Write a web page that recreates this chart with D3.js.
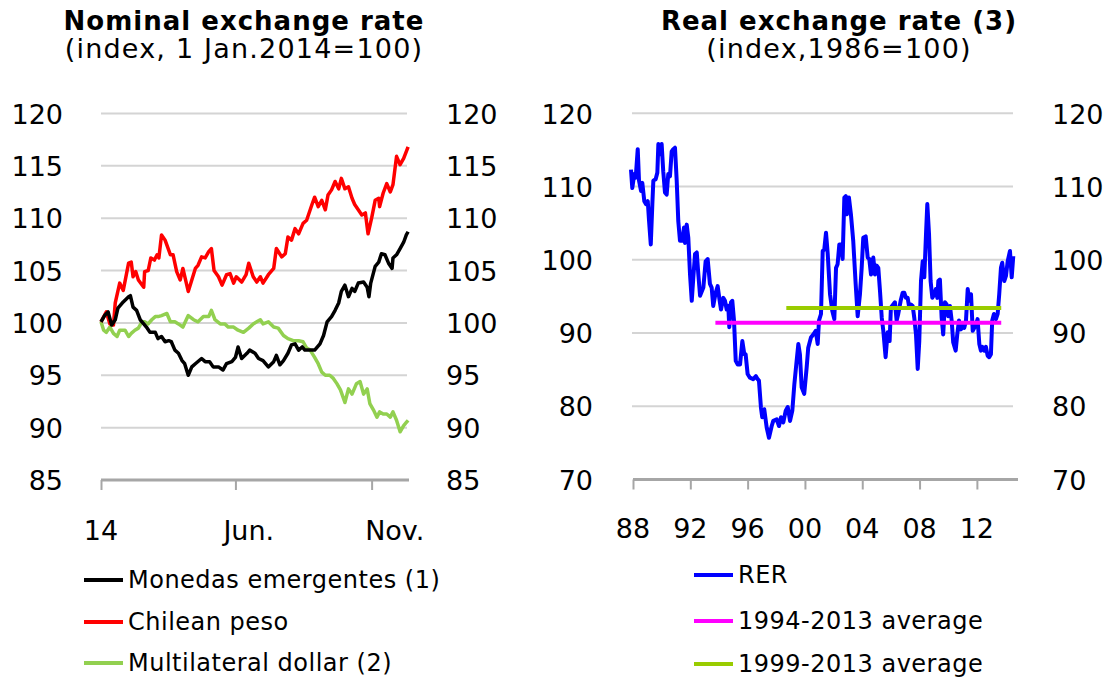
<!DOCTYPE html>
<html>
<head>
<meta charset="utf-8">
<script src="https://cdn.jsdelivr.net/npm/d3@7"></script>
<style>
  html, body { margin: 0; padding: 0; background: #fff; }
  svg { display: block; font-family: "DejaVu Sans", sans-serif; }
</style>
</head>
<body>
<svg id="chart" width="1110" height="678"></svg>
<script>
// ---------------- Left panel: nominal exchange rate (index, 1 Jan 2014 = 100) ----------------
const nomYTicks = [85, 90, 95, 100, 105, 110, 115, 120];
const nomTickDays = [0, 151, 304];          // days after 1 Jan 2014 (1 Jan, 1 Jun, 1 Nov)
const nomLabelDays = [0, 166, 330];
const nomTickLabels = ["14", "Jun.", "Nov."];

const emergDays = [0,4,8,12,16,19,25,31,33,36,40,44,48,51,55,61,64,68,72,76,79,83,87,91,94,98,102,106,113,117,122,126,132,137,141,147,151,154,158,164,167,173,177,182,188,194,197,201,205,210,214,218,222,226,229,235,240,246,250,254,259,263,267,270,274,278,282,285,289,295,299,301,303,308,312,315,319,323,327,328,332,336,340,343,345];
const emergValues = [100.1,100.7,101.05,99.8,100.3,101.4,102.0,102.5,102.6,101.5,101.2,100.3,99.9,99.6,99.1,99.1,98.5,98.7,98.2,98.3,98.2,97.4,97.1,96.4,96.1,95.0,95.8,96.1,96.6,96.3,96.3,95.8,95.8,95.5,96.1,96.3,96.7,97.7,96.6,97.1,97.4,97.1,96.6,96.4,95.8,96.3,96.9,96.0,96.4,97.1,97.9,98.0,97.4,97.7,97.4,97.4,97.4,98.0,98.8,100.1,100.6,101.2,101.9,103.0,103.6,102.5,103.3,103.0,103.8,103.9,103.4,102.5,103.8,105.4,105.8,106.6,106.5,105.7,105.2,106.2,106.5,107.1,107.7,108.4,108.7];

const clpDays = [0,6,10,14,16,21,25,31,34,36,39,42,48,49,53,56,60,63,65,68,72,78,81,85,89,92,98,102,106,109,113,117,121,124,127,132,136,141,145,149,152,158,163,166,171,175,179,182,188,194,197,203,207,210,214,218,222,227,231,237,240,244,248,252,255,259,263,267,270,274,278,282,285,289,293,297,300,304,308,312,313,317,321,325,328,332,336,340,345];
const clpValues = [100.1,101.05,99.9,99.8,101.9,103.8,103.1,105.7,105.8,104.4,104.9,104.1,103.4,104.9,105.0,106.2,106.0,106.5,106.2,108.4,107.9,106.5,106.5,104.9,104.1,105.2,103.0,104.1,105.2,105.5,106.3,106.2,106.8,107.1,105.0,104.4,103.6,104.6,104.7,103.8,104.4,103.9,104.6,105.7,104.4,103.9,104.4,103.8,104.6,105.2,107.1,106.3,106.6,108.2,107.9,109.0,108.5,109.5,109.8,111.3,112.0,111.1,111.7,110.8,112.2,112.7,113.5,112.8,113.8,112.8,113.0,111.9,111.3,110.8,110.3,110.5,108.5,110.0,111.7,111.9,111.1,112.4,113.3,112.5,113.2,115.9,115.1,115.7,116.8];

const usdDays = [0,3,6,10,14,18,21,27,31,34,38,42,46,49,53,57,61,64,68,74,78,83,87,92,98,104,109,115,121,124,128,134,139,143,149,154,160,166,171,175,179,182,188,194,199,205,210,216,222,227,231,235,240,244,248,252,257,261,265,269,274,278,282,287,291,295,299,302,306,310,313,317,321,325,328,332,336,340,343,345];
const usdValues = [100.1,99.3,99.1,99.6,99.0,98.7,99.3,99.3,98.7,99.0,99.3,99.5,100.1,100.1,99.9,100.3,100.6,100.6,100.7,100.9,100.1,100.1,99.9,99.6,100.7,100.3,100.1,100.6,100.6,101.2,100.3,99.9,99.9,99.6,99.6,99.3,99.1,99.5,99.9,100.1,100.3,99.9,100.1,99.6,99.5,98.8,98.5,98.3,98.3,98.2,97.6,97.4,96.7,96.1,95.3,95.0,95.0,94.7,94.2,93.6,92.4,93.7,93.2,94.2,94.4,93.2,93.7,92.3,91.7,91.0,91.5,91.3,91.3,91.0,91.5,90.7,89.6,90.2,90.5,90.7];

const nomSeries = ["Monedas emergentes (1)", "Chilean peso", "Multilateral dollar (2)"];
const nomColors = ["#000000", "#ff0000", "#92d050"];

// ---------------- Right panel: real exchange rate (index, 1986 = 100) ----------------
const rerYTicks = [70, 80, 90, 100, 110, 120];
const rerXTicks = [1988, 1992, 1996, 2000, 2004, 2008, 2012];
const rerXLabels = ["88", "92", "96", "00", "04", "08", "12"];

const rerYears = [1987.86,1987.95,1988.09,1988.19,1988.33,1988.42,1988.56,1988.65,1988.79,1988.91,1989.03,1989.12,1989.24,1989.35,1989.42,1989.58,1989.70,1989.77,1989.88,1990.00,1990.11,1990.23,1990.35,1990.46,1990.58,1990.70,1990.81,1990.93,1991.05,1991.16,1991.28,1991.44,1991.56,1991.63,1991.75,1991.86,1991.98,1992.10,1992.21,1992.33,1992.45,1992.56,1992.68,1992.91,1993.07,1993.21,1993.37,1993.49,1993.60,1993.77,1993.91,1994.02,1994.14,1994.30,1994.42,1994.54,1994.65,1994.72,1994.84,1994.93,1995.05,1995.17,1995.31,1995.47,1995.63,1995.77,1995.86,1996.00,1996.16,1996.39,1996.58,1996.70,1996.79,1996.93,1997.02,1997.16,1997.33,1997.49,1997.68,1997.79,1998.03,1998.19,1998.33,1998.49,1998.66,1998.80,1998.96,1999.12,1999.26,1999.42,1999.54,1999.65,1999.77,1999.95,2000.12,2000.23,2000.42,2000.58,2000.75,2000.89,2000.98,2001.12,2001.24,2001.35,2001.47,2001.59,2001.75,2001.91,2002.05,2002.17,2002.28,2002.40,2002.52,2002.63,2002.75,2002.85,2002.93,2003.07,2003.21,2003.37,2003.54,2003.68,2003.84,2003.96,2004.07,2004.24,2004.38,2004.49,2004.61,2004.77,2004.89,2005.01,2005.12,2005.24,2005.36,2005.47,2005.63,2005.77,2005.91,2006.00,2006.16,2006.28,2006.40,2006.51,2006.68,2006.82,2006.93,2007.05,2007.17,2007.26,2007.40,2007.52,2007.63,2007.75,2007.87,2007.98,2008.10,2008.22,2008.33,2008.45,2008.54,2008.66,2008.77,2008.89,2009.03,2009.14,2009.24,2009.31,2009.42,2009.54,2009.65,2009.77,2009.89,2010.00,2010.12,2010.24,2010.35,2010.52,2010.63,2010.75,2010.89,2011.01,2011.12,2011.24,2011.36,2011.47,2011.59,2011.71,2011.82,2011.94,2012.05,2012.17,2012.28,2012.40,2012.52,2012.63,2012.75,2012.86,2012.98,2013.07,2013.19,2013.33,2013.45,2013.56,2013.68,2013.77,2013.91,2014.03,2014.15,2014.31,2014.43,2014.54];
const rerValues = [112.3,109.8,111.7,111.2,115.1,110.8,109.4,110.5,108.0,107.6,108.0,105.3,102.1,107.6,110.8,111.0,111.9,115.8,114.4,115.8,112.1,109.2,108.9,111.7,111.4,114.8,115.1,115.3,110.8,105.3,102.6,102.6,104.4,102.3,104.8,103.0,98.0,94.4,97.6,100.8,101.0,98.0,95.1,96.2,99.8,100.1,96.7,96.2,93.7,95.5,96.4,94.8,93.2,94.8,94.4,93.2,93.7,90.8,94.2,94.4,91.7,86.2,85.7,85.7,88.9,87.1,87.1,84.4,83.9,83.7,84.1,83.7,83.5,79.8,78.5,79.6,77.1,75.7,77.3,78.0,78.2,77.3,78.5,77.8,79.4,79.9,78.0,79.4,83.0,86.2,88.5,87.1,82.6,81.7,85.3,88.0,89.4,89.8,90.3,88.5,91.7,92.6,101.2,101.4,103.7,100.8,95.3,93.0,91.9,98.9,99.4,102.1,102.1,100.1,108.5,108.7,106.2,108.5,106.2,102.6,96.7,92.3,95.3,98.9,103.0,103.2,100.3,100.1,98.0,100.3,98.0,99.2,98.9,95.7,92.1,90.3,86.7,90.1,88.9,93.5,93.9,94.2,91.7,92.6,94.4,95.5,95.5,94.8,94.8,93.7,93.9,93.7,92.1,89.8,85.1,88.9,97.1,99.8,97.6,103.5,107.6,103.5,97.1,94.8,95.3,96.0,94.8,97.1,97.3,92.1,89.8,94.2,93.9,92.3,93.7,91.7,88.7,87.6,89.8,91.7,90.5,91.2,90.7,91.7,96.0,94.4,95.3,90.3,90.7,91.2,91.9,88.5,87.6,88.1,87.6,88.1,86.9,86.7,87.1,91.7,92.6,91.9,92.6,95.3,98.9,99.6,97.1,97.8,99.8,101.2,97.6,100.5];

const avgNames = ["1994-2013 average", "1999-2013 average"];
const avgValues = [91.4, 93.4];
const avgStart = [1993.75, 1998.7];
const avgEnd = [2013.7, 2013.7];
const rerSeries = ["RER", "1994-2013 average", "1999-2013 average"];
const rerColors = ["#0000ff", "#ff00ff", "#99cc00"];

// ---------------- Drawing ----------------
const svg = d3.select("#chart");
const FONT = "'DejaVu Sans', sans-serif";
const gridColor = "#d4d4d4";
const axisColor = "#a6a6a6";

function dayDate(d) { return d3.timeDay.offset(new Date(2014, 0, 1), d); }

// Left scales
const xL = d3.scaleTime().domain([dayDate(0), dayDate(346)]).range([101, 409]);
const yL = d3.scaleLinear().domain([85, 120]).range([480, 113.4]);
// Right scales
const xR = d3.scaleLinear().domain([1988, 2014.87]).range([633, 1018]);
const yR = d3.scaleLinear().domain([70, 120]).range([479.5, 113.3]);

function panel(x0, x1, yScale, yTicks, leftLabelX, rightLabelX) {
  const g = svg.append("g");
  g.selectAll("line.grid").data(yTicks.slice(1)).join("line")
    .attr("x1", x0).attr("x2", x1)
    .attr("y1", d => yScale(d)).attr("y2", d => yScale(d))
    .attr("stroke", gridColor).attr("stroke-width", 2);
  const axL = d3.axisLeft(yScale).tickValues(yTicks).tickSize(0).tickPadding(0);
  const gl = g.append("g").attr("transform", `translate(${leftLabelX},0)`).call(axL);
  gl.select(".domain").remove();
  gl.selectAll("text").attr("font-family", FONT).attr("font-size", 27).attr("fill", "#000")
    .attr("dy", "0.36em").attr("text-anchor", "end");
  const axR = d3.axisRight(yScale).tickValues(yTicks).tickSize(0).tickPadding(0);
  const gr = g.append("g").attr("transform", `translate(${rightLabelX},0)`).call(axR);
  gr.select(".domain").remove();
  gr.selectAll("text").attr("font-family", FONT).attr("font-size", 27).attr("fill", "#000")
    .attr("dy", "0.36em").attr("text-anchor", "start");
  return g;
}

panel(101, 407, yL, nomYTicks, 63, 446);
panel(632, 1013, yR, rerYTicks, 593, 1052);

// Left x axis
const gxL = svg.append("g").attr("transform", `translate(0,${yL(85)})`)
  .call(d3.axisBottom(xL).tickValues(nomTickDays.map(dayDate)).tickSize(10).tickFormat(""));
gxL.select(".domain").attr("stroke", axisColor).attr("stroke-width", 3).attr("d", `M${xL.range()[0]},0H${xL.range()[1]}`);
gxL.selectAll(".tick line").attr("stroke", axisColor).attr("stroke-width", 2);
svg.append("g").selectAll("text").data(nomTickLabels).join("text")
  .attr("x", (d, i) => xL(dayDate(nomLabelDays[i])))
  .attr("y", 540)
  .attr("text-anchor", "middle")
  .attr("font-family", FONT).attr("font-size", 27).attr("fill", "#000")
  .text(d => d);

// Right x axis
const gxR = svg.append("g").attr("transform", `translate(0,${yR(70)})`)
  .call(d3.axisBottom(xR).tickValues(rerXTicks).tickSize(10).tickFormat(""));
gxR.select(".domain").attr("stroke", axisColor).attr("stroke-width", 3).attr("d", `M${xR.range()[0]},0H${xR.range()[1]}`);
gxR.selectAll(".tick line").attr("stroke", axisColor).attr("stroke-width", 2);
svg.append("g").selectAll("text").data(rerXLabels).join("text")
  .attr("x", (d, i) => xR(rerXTicks[i]))
  .attr("y", 538)
  .attr("text-anchor", "middle")
  .attr("font-family", FONT).attr("font-size", 27).attr("fill", "#000")
  .text(d => d);

// Left lines
const lineL = d3.line().x(d => xL(dayDate(d[0]))).y(d => yL(d[1]));
const nomData = [
  d3.zip(emergDays, emergValues),
  d3.zip(clpDays, clpValues),
  d3.zip(usdDays, usdValues)
];
[2, 1, 0].forEach(i => {
  svg.append("path").datum(nomData[i])
    .attr("d", lineL).attr("fill", "none")
    .attr("stroke", nomColors[i]).attr("stroke-width", 3.5)
    .attr("stroke-linejoin", "round");
});

// Right lines
const lineR = d3.line().x(d => xR(d[0])).y(d => yR(d[1]));
svg.append("path").datum(d3.zip(rerYears, rerValues))
  .attr("d", lineR).attr("fill", "none")
  .attr("stroke", rerColors[0]).attr("stroke-width", 4)
  .attr("stroke-linejoin", "round");
avgValues.forEach((v, i) => {
  svg.append("path").datum([[avgStart[i], v], [avgEnd[i], v]])
    .attr("d", lineR).attr("fill", "none")
    .attr("stroke", rerColors[i + 1]).attr("stroke-width", 4);
});

// Titles
function title(cx, t1, t2) {
  svg.append("text").attr("x", cx).attr("y", 30).attr("text-anchor", "middle")
    .attr("font-family", FONT).attr("font-weight", "bold").attr("font-size", 26)
    .attr("letter-spacing", 1).attr("fill", "#000").text(t1);
  svg.append("text").attr("x", cx).attr("y", 58).attr("text-anchor", "middle")
    .attr("font-family", FONT).attr("font-size", 27)
    .attr("letter-spacing", 1.2).attr("fill", "#000").text(t2);
}
title(244, "Nominal exchange rate", "(index, 1 Jan.2014=100)");
title(839, "Real exchange rate (3)", "(index,1986=100)");

// Legends
function legend(x, ys, names, colors) {
  const g = svg.append("g");
  names.forEach((n, i) => {
    g.append("line").attr("x1", x).attr("x2", x + 39)
      .attr("y1", ys[i]).attr("y2", ys[i])
      .attr("stroke", colors[i]).attr("stroke-width", 4);
    g.append("text").attr("x", x + 44).attr("y", ys[i] + 8)
      .attr("font-family", FONT).attr("font-size", 24).attr("letter-spacing", 0.5)
      .attr("fill", "#000").text(n);
  });
}
legend(84, [580, 622, 663], nomSeries, nomColors);
legend(694, [575, 621, 664], rerSeries, rerColors);
</script>
</body>
</html>
